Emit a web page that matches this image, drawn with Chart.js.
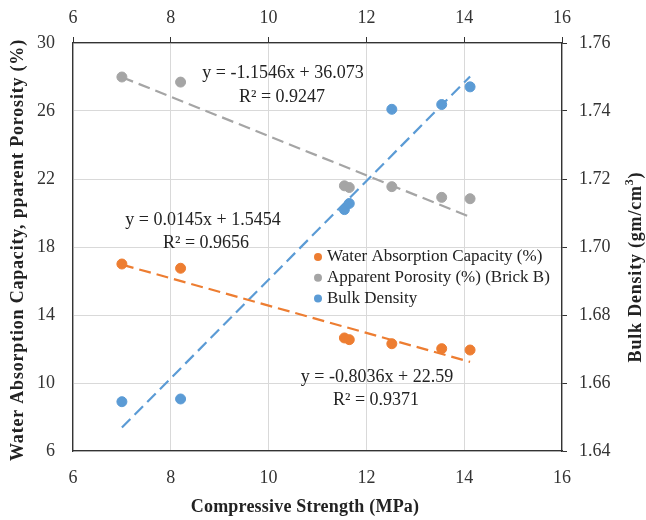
<!DOCTYPE html>
<html>
<head>
<meta charset="utf-8">
<script src="https://cdn.jsdelivr.net/npm/chart.js@4/dist/chart.umd.min.js"></script>
<style>
  html, body { margin: 0; padding: 0; background: #fff; }
  #wrap { width: 646px; height: 520px; }
</style>
</head>
<body>
<div id="wrap"><canvas id="chart" width="646" height="520"></canvas></div>
<script>
// compressive strength of each brick sample (MPa)
var strength = [7.0, 8.2, 11.55, 11.65, 12.52, 13.54, 14.12];
var waterAbsorption = [17.0, 16.75, 12.65, 12.55, 12.31, 12.02, 11.94];
var apparentPorosity = [28.0, 27.7, 21.6, 21.5, 21.55, 20.92, 20.84];
var bulkDensity = [1.6545, 1.6553, 1.7110, 1.7128, 1.7405, 1.7419, 1.7471];

// linear trend fits: [slope, intercept, r2]
var fitWater = [-0.8036, 22.59, 0.9371];
var fitPorosity = [-1.1546, 36.073, 0.9247];
var fitDensity = [0.0145, 1.5454, 0.9656];

var leftTicks = [6, 10, 14, 18, 22, 26, 30];
var rightTicks = [1.64, 1.66, 1.68, 1.70, 1.72, 1.74, 1.76];
var xTicks = [6, 8, 10, 12, 14, 16];

var ORANGE = '#ED7D31', GREY = '#A5A5A5', BLUE = '#5B9BD5';
var SERIF = '"Liberation Serif", "Times New Roman", serif';

function points(ys) {
  return strength.map(function (x, i) { return { x: x, y: ys[i] }; });
}
function trend(fit) {
  var x0 = strength[0], x1 = strength[strength.length - 1];
  return [{ x: x0, y: fit[0] * x0 + fit[1] }, { x: x1, y: fit[0] * x1 + fit[1] }];
}
function scatterSet(label, ys, color, axis) {
  return { type: 'scatter', label: label, data: points(ys), yAxisID: axis, order: 0,
    backgroundColor: color, borderColor: color, pointRadius: 5, pointHoverRadius: 5 };
}
function trendSet(fit, color, axis) {
  return { type: 'line', data: trend(fit), yAxisID: axis, order: 1, borderColor: color,
    borderWidth: 2.2, borderDash: [12, 6], pointRadius: 0, fill: false, tension: 0 };
}
function fitText(fit) {
  var s = fit[0] < 0 ? '-' + Math.abs(fit[0]) : '' + fit[0];
  return 'y = ' + s + 'x + ' + fit[1];
}
function spaced(ctx, px) {
  if ('letterSpacing' in ctx) ctx.letterSpacing = px + 'px';
}

// equations, legend and axis titles drawn over the plot
var annotate = {
  id: 'annotate',
  afterDraw: function (chart) {
    var ctx = chart.ctx;
    ctx.save();
    ctx.fillStyle = '#222';
    ctx.textBaseline = 'middle';
    ctx.textAlign = 'center';
    ctx.font = '18px ' + SERIF;
    ctx.fillText(fitText(fitPorosity), 283, 73);
    ctx.fillText('R\u00b2 = ' + fitPorosity[2], 282, 97);
    ctx.fillText(fitText(fitDensity), 203, 220);
    ctx.fillText('R\u00b2 = ' + fitDensity[2], 206, 243);
    ctx.fillText(fitText(fitWater), 377, 377);
    ctx.fillText('R\u00b2 = ' + fitWater[2], 376, 400);

    // legend
    var items = [['Water Absorption Capacity (%)', ORANGE], ['Apparent Porosity (%) (Brick B)', GREY], ['Bulk Density', BLUE]];
    ctx.textAlign = 'left';
    ctx.font = '17px ' + SERIF;
    items.forEach(function (it, i) {
      var y = 257 + i * 20.7;
      ctx.fillStyle = it[1];
      ctx.beginPath();
      ctx.arc(318, y, 4, 0, Math.PI * 2);
      ctx.fill();
      ctx.fillStyle = '#222';
      ctx.fillText(it[0], 327, y);
    });

    // axis titles
    ctx.font = 'bold 18px ' + SERIF;
    ctx.textAlign = 'center';
    spaced(ctx, 0.2);
    ctx.fillText('Compressive Strength (MPa)', 305, 507);

    spaced(ctx, 0.8);
    ctx.save();
    ctx.translate(18, 250);
    ctx.rotate(-Math.PI / 2);
    ctx.fillText('Water Absorption Capacity, pparent Porosity (%)', 0, 0);
    ctx.restore();

    ctx.save();
    ctx.translate(636, 267);
    ctx.rotate(-Math.PI / 2);
    var a = 'Bulk Density (gm/cm', b = '3', c = ')';
    ctx.font = 'bold 18px ' + SERIF;
    var wa = ctx.measureText(a).width, wc = ctx.measureText(c).width;
    ctx.font = 'bold 12px ' + SERIF;
    var wb = ctx.measureText(b).width;
    var x = -(wa + wb + wc) / 2;
    ctx.textAlign = 'left';
    ctx.font = 'bold 18px ' + SERIF;
    ctx.fillText(a, x, 0);
    ctx.font = 'bold 12px ' + SERIF;
    ctx.fillText(b, x + wa, -6);
    ctx.font = 'bold 18px ' + SERIF;
    ctx.fillText(c, x + wa + wb, 0);
    ctx.restore();
    spaced(ctx, 0);
    ctx.restore();
  }
};

var tickFont = { family: SERIF, size: 18 };

new Chart(document.getElementById('chart'), {
  data: {
    datasets: [
      scatterSet('Water Absorption Capacity (%)', waterAbsorption, ORANGE, 'y'),
      scatterSet('Apparent Porosity (%) (Brick B)', apparentPorosity, GREY, 'y'),
      scatterSet('Bulk Density', bulkDensity, BLUE, 'y2'),
      trendSet(fitWater, ORANGE, 'y'),
      trendSet(fitPorosity, GREY, 'y'),
      trendSet(fitDensity, BLUE, 'y2')
    ]
  },
  options: {
    responsive: false,
    animation: false,
    layout: { padding: 0 },
    plugins: { legend: { display: false }, tooltip: { enabled: false } },
    scales: {
      x: {
        type: 'linear', position: 'bottom', min: 6, max: 16,
        afterBuildTicks: function (s) { s.ticks = xTicks.map(function (v) { return { value: v }; }); },
        afterFit: function (s) { s.height = 69; },
        grid: { color: '#d9d9d9', drawTicks: false },
        border: { color: '#333', width: 1.3 },
        ticks: { font: tickFont, color: '#333', padding: 16 }
      },
      x2: {
        type: 'linear', position: 'top', min: 6, max: 16,
        afterBuildTicks: function (s) { s.ticks = xTicks.map(function (v) { return { value: v }; }); },
        afterFit: function (s) { s.height = 43; },
        grid: { drawOnChartArea: false, color: '#333', tickLength: 6 },
        border: { color: '#333', width: 1.3 },
        ticks: { font: tickFont, color: '#333', padding: 8 }
      },
      y: {
        type: 'linear', position: 'left', min: 6, max: 30,
        afterBuildTicks: function (s) { s.ticks = leftTicks.map(function (v) { return { value: v }; }); },
        afterFit: function (s) { s.width = 73; },
        grid: { color: '#d9d9d9', drawTicks: false },
        border: { color: '#333', width: 1.3 },
        ticks: { font: tickFont, color: '#333', padding: 18 }
      },
      y2: {
        type: 'linear', position: 'right', min: 1.64, max: 1.76,
        afterBuildTicks: function (s) { s.ticks = rightTicks.map(function (v) { return { value: v }; }); },
        afterFit: function (s) { s.width = 84; },
        grid: { drawOnChartArea: false, color: '#333', tickLength: 5 },
        border: { color: '#333', width: 1.3 },
        ticks: { font: tickFont, color: '#333', padding: 12,
          callback: function (v) { return v.toFixed(2); } }
      }
    }
  },
  plugins: [annotate]
});
</script>
</body>
</html>
